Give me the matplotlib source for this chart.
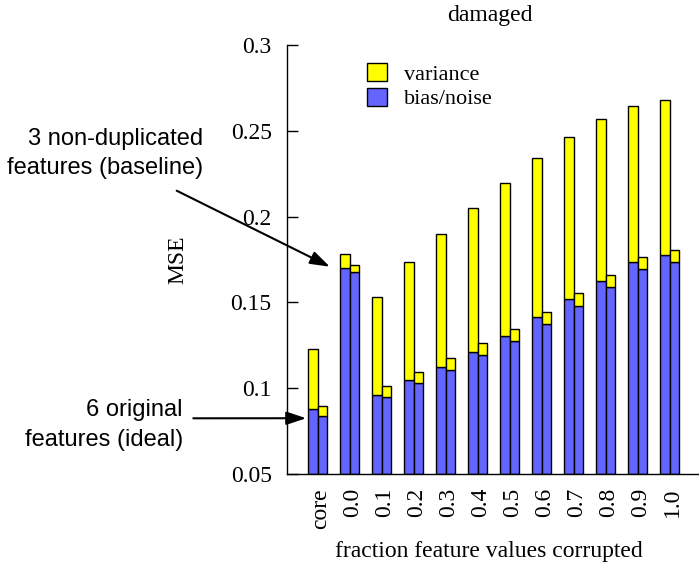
import matplotlib
matplotlib.use("Agg")
import matplotlib.pyplot as plt
import numpy as np
from matplotlib.patches import Patch

categories = ["core", "0.0", "0.1", "0.2", "0.3", "0.4", "0.5", "0.6", "0.7", "0.8", "0.9", "1.0"]
# first bar of each pair
bias_a = [0.0879, 0.1699, 0.0959, 0.1046, 0.1122, 0.1213, 0.1306, 0.1413, 0.1518, 0.1627, 0.1734, 0.1776]
total_a = [0.1230, 0.1782, 0.1530, 0.1737, 0.1899, 0.2052, 0.2194, 0.2341, 0.2466, 0.2569, 0.2646, 0.2678]
# second bar of each pair
bias_b = [0.0838, 0.1675, 0.0947, 0.1028, 0.1106, 0.1192, 0.1275, 0.1374, 0.1479, 0.1588, 0.1693, 0.1734]
total_b = [0.0898, 0.1720, 0.1013, 0.1094, 0.1174, 0.1262, 0.1347, 0.1446, 0.1553, 0.1662, 0.1765, 0.1804]

yticks = [0.05, 0.1, 0.15, 0.2, 0.25, 0.3]
ytick_labels = ["0.05", "0.1", "0.15", "0.2", "0.25", "0.3"]

YEL = "#ffff00"
BLU = "#6464ff"
serif = ["Liberation Serif", "DejaVu Serif"]
sans = ["Liberation Sans", "DejaVu Sans"]

fig = plt.figure(figsize=(6.99, 5.65), dpi=100)
ax = fig.add_axes([287/699, 1-474/565, 1-287/699, (474-45)/565])

x = np.arange(len(categories))
w = 0.30
base = 0.05
bias_a = np.array(bias_a); total_a = np.array(total_a)
bias_b = np.array(bias_b); total_b = np.array(total_b)

for off, b, t in [(-w/2, bias_a, total_a), (w/2, bias_b, total_b)]:
    ax.bar(x + off, b - base, w, bottom=base, color=BLU, edgecolor="black", linewidth=1.0, zorder=2)
    ax.bar(x + off, t - b, w, bottom=b, color=YEL, edgecolor="black", linewidth=1.0, zorder=2)

ax.set_ylim(0.05, 0.3)
ax.set_xlim(-0.96, 11.92)
ax.spines["top"].set_visible(False)
ax.spines["right"].set_visible(False)
ax.spines["left"].set_linewidth(1.0)
ax.spines["bottom"].set_linewidth(1.0)

ax.set_yticks(yticks)
ax.set_yticklabels(ytick_labels, fontfamily=serif, fontsize=17)
ax.tick_params(axis="y", direction="in", length=8, width=1, pad=11)
ax.set_xticks(x + 0.1)
ax.set_xticklabels(categories, rotation=90, fontfamily=serif, fontsize=17)
ax.tick_params(axis="x", length=0, pad=10)

ax.set_ylabel("MSE", fontfamily=serif, fontsize=17)
ax.yaxis.label.set_va("center")
ax.yaxis.set_label_coords((178-287)/412, 0.5)
ax.set_xlabel("fraction feature values corrupted", fontfamily=serif, fontsize=17)
ax.xaxis.label.set_va("center")
ax.xaxis.set_label_coords(0.49, (474-551)/429)
fig.text(490/699, 1-15/565, "damaged", ha="center", va="center", fontfamily=serif, fontsize=17)

handles = [Patch(facecolor=YEL, edgecolor="black", label="variance"),
           Patch(facecolor=BLU, edgecolor="black", label="bias/noise")]
leg = ax.legend(handles=handles, loc="upper left", bbox_to_anchor=((367-287)/(699-287), 1-(63-45)/(474-45)),
                frameon=False, prop={"family": serif, "size": 16}, handlelength=0.9, handleheight=0.85,
                handletextpad=0.75, labelspacing=0.15, borderaxespad=0, borderpad=0)

fig.text(203/699, 1-139/565, "3 non-duplicated", ha="right", va="center", fontfamily=sans, fontsize=17)
fig.text(203/699, 1-168/565, "features (baseline)", ha="right", va="center", fontfamily=sans, fontsize=17)
fig.text(183/699, 1-410/565, "6 original", ha="right", va="center", fontfamily=sans, fontsize=17)
fig.text(183/699, 1-440/565, "features (ideal)", ha="right", va="center", fontfamily=sans, fontsize=17)

arrow_kw = dict(arrowstyle="-|>,head_length=1.2,head_width=0.4", color="black", lw=1.5,
                shrinkA=0, shrinkB=0)
ax.annotate("", xy=(0.38, 0.1708), xycoords="data",
            xytext=(176.7, 565-190.7), textcoords="figure pixels",
            arrowprops=arrow_kw, annotation_clip=False)
ax.annotate("", xy=(-0.36, 0.0825), xycoords="data",
            xytext=(193.3, 565-418.3), textcoords="figure pixels",
            arrowprops=arrow_kw, annotation_clip=False)

fig.savefig("out.png", dpi=100)
